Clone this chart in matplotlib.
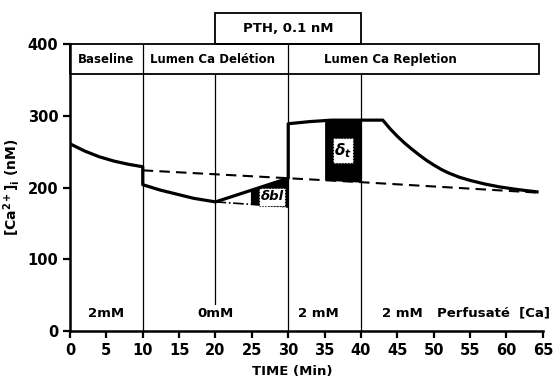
import numpy as np
import matplotlib.pyplot as plt
from matplotlib.patches import Rectangle

# Measured [Ca2+]i trace (nM) against time (min)
time_trace = [0, 2, 4, 6, 8, 10, 10, 12.4, 17, 20, 30, 30, 33, 36, 43,
              44, 45, 46, 47, 48, 49, 50, 51, 52, 53.5, 55, 57, 59, 61, 62.5, 64.2]
ca_trace = [261, 251, 243, 237, 232.5, 229, 204, 196.5, 185, 180, 213, 289, 292, 294, 294,
            282, 271.5, 262, 253.5, 245.5, 238, 231.5, 225.5, 220.5, 214.5, 210,
            205, 201, 198, 196, 194]

# Extrapolated baseline (dashed) and deletion trend (dash-dot)
time_base = [10, 40, 64.2]
ca_base = [224, 207.5, 193]
time_del = [20, 30]
ca_del = [180, 173]

# Shaded delta regions
dbl_span = [24.8, 30]
dt_span = [35, 40]

# Header bands
band_edges = [0, 10, 30, 64.5]
band_labels = ['Baseline', 'Lumen Ca Delétion', 'Lumen Ca Repletion']
band_label_x = [4.9, 19.6, 44]
pth_span = [20, 40]
pth_label = 'PTH, 0.1 nM'

# Perfusate labels at the bottom
perf_x = [4.9, 20, 34.2, 45.7, 58.2]
perf_labels = ['2mM', '0mM', '2 mM', '2 mM', 'Perfusaté  [Ca]']

xticks = list(range(0, 70, 5))
yticks = [0, 100, 200, 300, 400]

plt.rcParams['font.family'] = ['DejaVu Sans']
plt.rcParams['font.weight'] = 'bold'
plt.rcParams['mathtext.default'] = 'bf'

fig = plt.figure(figsize=(5.53, 3.77), dpi=100)
ax = fig.add_axes([0.1266, 0.122, 0.855, 0.761])
ax.set_xlim(0, 65)
ax.set_ylim(0, 400)

band_lo, band_hi, pth_hi = 358, 400, 443

# vertical dividers
for xv in [10, 30, 40]:
    top = band_hi if xv != 40 else band_lo
    ax.plot([xv, xv], [0, top], color='black', lw=0.9)
ax.plot([20, 20], [38, band_lo], color='black', lw=0.9)

# header band boxes
ax.add_patch(Rectangle((band_edges[0], band_lo), band_edges[-1] - band_edges[0],
                       band_hi - band_lo, fill=False, lw=1.3, clip_on=False))
for lab, xl in zip(band_labels, band_label_x):
    ax.text(xl, (band_lo + band_hi) / 2, lab, ha='center', va='center', fontsize=8.5)
ax.add_patch(Rectangle((pth_span[0], band_hi), pth_span[1] - pth_span[0],
                       pth_hi - band_hi, fill=False, lw=1.3, clip_on=False))
ax.text(sum(pth_span) / 2, (band_hi + pth_hi) / 2, pth_label, ha='center',
        va='center', fontsize=9.5, clip_on=False)

# delta fills
xs = np.linspace(dbl_span[0], dbl_span[1], 30)
ax.fill_between(xs, np.interp(xs, time_del, ca_del), np.interp(xs, time_trace[7:11], ca_trace[7:11]),
                color='black', lw=0)
xs = np.linspace(dt_span[0], dt_span[1], 30)
ax.fill_between(xs, np.interp(xs, time_base, ca_base), np.interp(xs, time_trace[11:15], ca_trace[11:15]),
                color='black', lw=0)

ax.add_patch(Rectangle((26.0, 174), 3.6, 26, facecolor='white', edgecolor='black',
                       lw=0.8, ls=':', zorder=3))
ax.text(27.8, 187, 'δbl', style='italic', ha='center', va='center', fontsize=9.5, zorder=4)
ax.add_patch(Rectangle((36.2, 234), 2.7, 35, facecolor='white', edgecolor='black',
                       lw=0.8, ls=':', zorder=3))
ax.text(37.55, 251, r'$\mathit{\delta}_{\mathit{t}}$', ha='center', va='center',
        fontsize=11, zorder=4)

# traces
ax.plot(time_base, ca_base, color='black', lw=1.5, ls=(0, (5, 3)))
ax.plot(time_del, ca_del, color='black', lw=1.2, ls='-.')
ax.plot(time_trace, ca_trace, color='black', lw=2.3, solid_joinstyle='round', zorder=5)

for xl, lab in zip(perf_x, perf_labels):
    ax.text(xl, 25, lab, ha='center', va='center', fontsize=9.5,
            bbox=dict(facecolor='white', edgecolor='none', pad=1) if lab == '0mM' else None)

ax.set_xticks(xticks)
ax.set_yticks(yticks)
ax.tick_params(labelsize=10.5, width=1.6, length=5)
for s in ['top', 'right']:
    ax.spines[s].set_visible(False)
for s in ['left', 'bottom']:
    ax.spines[s].set_linewidth(1.8)

ax.set_xlabel('TIME (Min)', fontsize=9.5, fontweight='bold')
ax.xaxis.set_label_coords(0.47, -0.12)
ax.set_ylabel(r'[Ca$^{2+}$]$_{i}$ (nM)', fontsize=10, fontweight='bold')

fig.savefig('out.png', dpi=100)
